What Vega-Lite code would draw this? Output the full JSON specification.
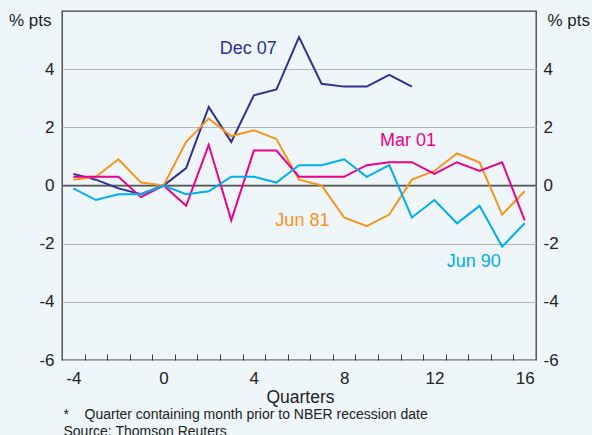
{
  "$schema": "https://vega.github.io/schema/vega-lite/v6.json",
  "width": 474,
  "height": 349,
  "autosize": {"type": "none"},
  "padding": {"left": 62, "top": 11, "right": 56, "bottom": 75},
  "background": "#eef6f9",
  "config": {
    "font": "Liberation Sans",
    "view": {"stroke": "#3c3c3c", "strokeWidth": 1.3},
    "axis": {"labelFont": "Liberation Sans", "titleFont": "Liberation Sans", "labelColor": "#222", "titleColor": "#222", "titleFontWeight": "normal"}
  },
  "title": {
    "text": "Change from cyclical peak*",
    "orient": "top",
    "frame": "group",
    "offset": 12,
    "baseline": "alphabetic",
    "fontSize": 17.5,
    "fontWeight": "normal",
    "font": "Liberation Sans",
    "color": "#222",
    "dx": -11
  },
  "datasets": {
    "series": [
      {"q": -4, "s": "Dec 07", "v": 0.4}, {"q": -3, "s": "Dec 07", "v": 0.2}, {"q": -2, "s": "Dec 07", "v": -0.1}, {"q": -1, "s": "Dec 07", "v": -0.3},
      {"q": 0, "s": "Dec 07", "v": 0}, {"q": 1, "s": "Dec 07", "v": 0.6}, {"q": 2, "s": "Dec 07", "v": 2.7}, {"q": 3, "s": "Dec 07", "v": 1.5},
      {"q": 4, "s": "Dec 07", "v": 3.1}, {"q": 5, "s": "Dec 07", "v": 3.3}, {"q": 6, "s": "Dec 07", "v": 5.1}, {"q": 7, "s": "Dec 07", "v": 3.5},
      {"q": 8, "s": "Dec 07", "v": 3.4}, {"q": 9, "s": "Dec 07", "v": 3.4}, {"q": 10, "s": "Dec 07", "v": 3.8}, {"q": 11, "s": "Dec 07", "v": 3.4},

      {"q": -4, "s": "Jun 81", "v": 0.2}, {"q": -3, "s": "Jun 81", "v": 0.3}, {"q": -2, "s": "Jun 81", "v": 0.9}, {"q": -1, "s": "Jun 81", "v": 0.1},
      {"q": 0, "s": "Jun 81", "v": 0}, {"q": 1, "s": "Jun 81", "v": 1.5}, {"q": 2, "s": "Jun 81", "v": 2.3}, {"q": 3, "s": "Jun 81", "v": 1.7},
      {"q": 4, "s": "Jun 81", "v": 1.9}, {"q": 5, "s": "Jun 81", "v": 1.6}, {"q": 6, "s": "Jun 81", "v": 0.2}, {"q": 7, "s": "Jun 81", "v": 0},
      {"q": 8, "s": "Jun 81", "v": -1.1}, {"q": 9, "s": "Jun 81", "v": -1.4}, {"q": 10, "s": "Jun 81", "v": -1.0}, {"q": 11, "s": "Jun 81", "v": 0.2},
      {"q": 12, "s": "Jun 81", "v": 0.5}, {"q": 13, "s": "Jun 81", "v": 1.1}, {"q": 14, "s": "Jun 81", "v": 0.8}, {"q": 15, "s": "Jun 81", "v": -1.0},
      {"q": 16, "s": "Jun 81", "v": -0.2},

      {"q": -4, "s": "Mar 01", "v": 0.3}, {"q": -3, "s": "Mar 01", "v": 0.3}, {"q": -2, "s": "Mar 01", "v": 0.3}, {"q": -1, "s": "Mar 01", "v": -0.4},
      {"q": 0, "s": "Mar 01", "v": 0}, {"q": 1, "s": "Mar 01", "v": -0.7}, {"q": 2, "s": "Mar 01", "v": 1.4}, {"q": 3, "s": "Mar 01", "v": -1.2},
      {"q": 4, "s": "Mar 01", "v": 1.2}, {"q": 5, "s": "Mar 01", "v": 1.2}, {"q": 6, "s": "Mar 01", "v": 0.3}, {"q": 7, "s": "Mar 01", "v": 0.3},
      {"q": 8, "s": "Mar 01", "v": 0.3}, {"q": 9, "s": "Mar 01", "v": 0.7}, {"q": 10, "s": "Mar 01", "v": 0.8}, {"q": 11, "s": "Mar 01", "v": 0.8},
      {"q": 12, "s": "Mar 01", "v": 0.4}, {"q": 13, "s": "Mar 01", "v": 0.8}, {"q": 14, "s": "Mar 01", "v": 0.5}, {"q": 15, "s": "Mar 01", "v": 0.8},
      {"q": 16, "s": "Mar 01", "v": -1.2},

      {"q": -4, "s": "Jun 90", "v": -0.1}, {"q": -3, "s": "Jun 90", "v": -0.5}, {"q": -2, "s": "Jun 90", "v": -0.3}, {"q": -1, "s": "Jun 90", "v": -0.3},
      {"q": 0, "s": "Jun 90", "v": 0}, {"q": 1, "s": "Jun 90", "v": -0.3}, {"q": 2, "s": "Jun 90", "v": -0.2}, {"q": 3, "s": "Jun 90", "v": 0.3},
      {"q": 4, "s": "Jun 90", "v": 0.3}, {"q": 5, "s": "Jun 90", "v": 0.1}, {"q": 6, "s": "Jun 90", "v": 0.7}, {"q": 7, "s": "Jun 90", "v": 0.7},
      {"q": 8, "s": "Jun 90", "v": 0.9}, {"q": 9, "s": "Jun 90", "v": 0.3}, {"q": 10, "s": "Jun 90", "v": 0.7}, {"q": 11, "s": "Jun 90", "v": -1.1},
      {"q": 12, "s": "Jun 90", "v": -0.5}, {"q": 13, "s": "Jun 90", "v": -1.3}, {"q": 14, "s": "Jun 90", "v": -0.7}, {"q": 15, "s": "Jun 90", "v": -2.1},
      {"q": 16, "s": "Jun 90", "v": -1.3}
    ],
    "labels": [
      {"q": 3.75, "v": 4.69, "s": "Dec 07"},
      {"q": 10.83, "v": 1.54, "s": "Mar 01"},
      {"q": 6.15, "v": -1.22, "s": "Jun 81"},
      {"q": 13.74, "v": -2.64, "s": "Jun 90"}
    ],
    "zero": [{"a": -4.5, "b": 16.5, "y": 0}]
  },
  "resolve": {"axis": {"x": "independent", "y": "independent"}},
  "layer": [
    {
      "data": {"name": "zero"},
      "mark": {"type": "rule", "color": "#555555", "strokeWidth": 1.5},
      "encoding": {
        "x": {
          "field": "a", "type": "quantitative",
          "scale": {"domain": [-4.5, 16.5], "nice": false, "zero": false},
          "axis": {
            "orient": "bottom",
            "values": [-3.5, -2.5, -1.5, -0.5, 0.5, 1.5, 2.5, 3.5, 4.5, 5.5, 6.5, 7.5, 8.5, 9.5, 10.5, 11.5, 12.5, 13.5, 14.5, 15.5],
            "labels": false, "domain": false, "grid": false,
            "ticks": true, "tickSize": -6, "tickColor": "#3c3c3c", "tickWidth": 1,
            "title": ["*\u00a0\u00a0\u00a0\u00a0Quarter containing month prior to NBER recession date", "Source: Thomson Reuters"],
            "titleFontSize": 14, "titleLineHeight": 17,
            "titleAnchor": "start", "titleAlign": "left", "titleBaseline": "top",
            "titleX": 1, "titleY": 47, "titleAngle": 0
          }
        },
        "x2": {"field": "b"},
        "y": {
          "field": "y", "type": "quantitative",
          "scale": {"domain": [-6, 6], "nice": false, "zero": false},
          "axis": {
            "orient": "right",
            "values": [-6, -4, -2, 0, 2, 4],
            "labelExpr": "datum.value < 0 ? '-' + abs(datum.value) : '' + datum.value",
            "grid": false, "ticks": false, "domain": false,
            "labelFontSize": 17, "labelPadding": 7,
            "title": "% pts", "titleAngle": 0, "titleFontSize": 17,
            "titleAlign": "left", "titleBaseline": "middle", "titleX": 11, "titleY": 9
          }
        }
      }
    },
    {
      "data": {"name": "series"},
      "mark": {"type": "line", "strokeWidth": 2},
      "encoding": {
        "x": {
          "field": "q", "type": "quantitative",
          "scale": {"domain": [-4.5, 16.5], "nice": false, "zero": false},
          "axis": {
            "orient": "bottom",
            "values": [-4, 0, 4, 8, 12, 16],
            "labelExpr": "datum.value < 0 ? '-' + abs(datum.value) : '' + datum.value",
            "ticks": false, "domain": false, "grid": false,
            "labelFontSize": 17, "labelPadding": 10, "labelBaseline": "top",
            "title": "Quarters", "titleFontSize": 17.5,
            "titleBaseline": "middle", "titleX": 238, "titleY": 37
          }
        },
        "y": {
          "field": "v", "type": "quantitative",
          "scale": {"domain": [-6, 6], "nice": false, "zero": false},
          "axis": {
            "orient": "left",
            "values": [-6, -4, -2, 0, 2, 4],
            "labelExpr": "datum.value < 0 ? '-' + abs(datum.value) : '' + datum.value",
            "grid": true, "gridColor": "#b5b5b5", "gridWidth": 1,
            "ticks": false, "domain": false,
            "labelFontSize": 17, "labelPadding": 8,
            "title": "% pts", "titleAngle": 0, "titleFontSize": 17,
            "titleAlign": "right", "titleBaseline": "middle", "titleX": -11, "titleY": 9
          }
        },
        "color": {
          "field": "s", "type": "nominal",
          "scale": {"domain": ["Jun 90", "Jun 81", "Mar 01", "Dec 07"], "range": ["#00aeef", "#f7941d", "#ec008c", "#2e3192"]},
          "legend": null
        }
      }
    },
    {
      "data": {"name": "labels"},
      "mark": {"type": "text", "fontSize": 18, "font": "Liberation Sans"},
      "encoding": {
        "x": {"field": "q", "type": "quantitative", "axis": null},
        "y": {"field": "v", "type": "quantitative", "axis": null},
        "text": {"field": "s"},
        "color": {"field": "s", "type": "nominal", "legend": null}
      }
    }
  ]
}
